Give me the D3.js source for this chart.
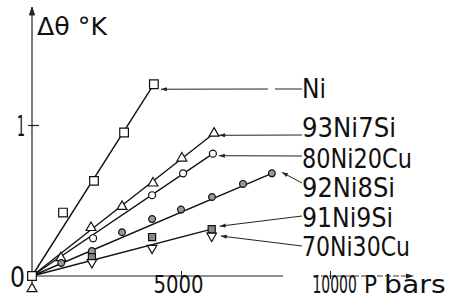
<!DOCTYPE html>
<html lang="en">
<head>
<meta charset="UTF-8">
<title>Delta theta vs P</title>
<script src="https://cdn.jsdelivr.net/npm/d3@7"></script>
<style>
  body { margin: 0; background: #fff; }
  svg { display: block; }
  text { font-family: "DejaVu Sans", sans-serif; fill: #111; }
</style>
</head>
<body>
<div id="chart"></div>
<script>
// data (P in bars, delta theta in K)
var seriesNames = ["Ni", "93Ni7Si", "80Ni20Cu", "92Ni8Si", "91Ni9Si", "70Ni30Cu"];
var niP        = [0, 1040, 2080, 3090, 4090];
var niT        = [0, 0.42, 0.63, 0.95, 1.27];
var ni7SiP     = [0, 970, 1980, 3020, 4060, 5030, 6110];
var ni7SiT     = [-0.085, 0.12, 0.32, 0.46, 0.615, 0.78, 0.945];
var cu20P      = [2050, 4030, 5070, 6070];
var cu20T      = [0.25, 0.535, 0.68, 0.81];
var ni8SiP     = [980, 2010, 3020, 4030, 5000, 6040, 7080, 8050];
var ni8SiT     = [0.086, 0.165, 0.29, 0.377, 0.44, 0.523, 0.61, 0.68];
var ni9SiP     = [2010, 4030, 6030];
var ni9SiT     = [0.125, 0.258, 0.31];
var cu30P      = [2010, 4030, 6030];
var cu30T      = [0.09, 0.185, 0.265];
var xTicks = [5000, 10000];
var yTicks = [0, 1];

var W = 455, H = 308;
var svg = d3.select("#chart").append("svg").attr("width", W).attr("height", H);

var x = d3.scaleLinear().domain([0, 10000]).range([32, 330]);
var y = d3.scaleLinear().domain([0, 1]).range([276, 125]);

function pts(ps, ts) { return ps.map(function(p, i) { return [p, ts[i]]; }); }
var data = {
  "Ni": pts(niP, niT),
  "93Ni7Si": pts(ni7SiP, ni7SiT),
  "80Ni20Cu": pts(cu20P, cu20T),
  "92Ni8Si": pts(ni8SiP, ni8SiT),
  "91Ni9Si": pts(ni9SiP, ni9SiT),
  "70Ni30Cu": pts(cu30P, cu30T)
};

// axes
var ax = svg.append("g").attr("stroke", "#222").attr("fill", "none");
ax.append("line").attr("x1", x(0)).attr("x2", x(0)).attr("y1", 10).attr("y2", 283).attr("stroke-width", 1.2);
ax.append("path").attr("d", "M" + x(0) + ",7 l-2.5,8 l5,0 z").attr("fill", "#222");
ax.append("line").attr("x1", x(0)).attr("x2", 283).attr("y1", y(0)).attr("y2", y(0)).attr("stroke-width", 1.1);
ax.append("line").attr("x1", 313).attr("x2", 410).attr("y1", y(0)).attr("y2", y(0))
  .attr("stroke-width", 0.9).attr("stroke-dasharray", "6,2");
ax.append("path").attr("d", "M414," + y(0) + " l-8,-2.5 l0,5 z").attr("fill", "#222").attr("stroke", "none");

var yAxis = svg.append("g").attr("transform", "translate(" + x(0) + ",0)")
  .call(d3.axisLeft(y).tickValues(yTicks).tickSize(4).tickPadding(4).tickFormat(d3.format("d")));
yAxis.select(".domain").remove();
yAxis.selectAll(".tick line").attr("x1", -4).attr("x2", 7).attr("stroke", "#222").attr("stroke-width", 1.2)
  .filter(function(d) { return d === 0; }).remove();
yAxis.selectAll(".tick text").attr("font-size", 29).attr("dy", "0.36em")
  .attr("textLength", function(d) { return d === 0 ? 15 : 8; }).attr("lengthAdjust", "spacingAndGlyphs")
  .attr("x", -7);

var xAxis = svg.append("g").attr("transform", "translate(0," + y(0) + ")")
  .call(d3.axisBottom(x).tickValues(xTicks).tickSize(3).tickFormat(d3.format("d")));
xAxis.select(".domain").remove();
xAxis.selectAll(".tick line").attr("y1", -5).attr("y2", 3).attr("stroke", "#222").attr("stroke-width", 1);
// squeeze tick labels with a scale transform so their boxes really shrink
xAxis.selectAll(".tick text").attr("font-size", 24).attr("dy", 0).attr("y", 0).attr("x", 0)
  .attr("text-anchor", "start")
  .attr("transform", function(d) {
    return d === 5000 ? "translate(-28,17) scale(0.82,1)" : "translate(-18,17) scale(0.58,1)";
  });

svg.append("text").attr("transform", "translate(364,293) scale(0.9,1)").attr("font-size", 24).text("P");
svg.append("text").attr("transform", "translate(384,293) scale(1.18,1)").attr("font-size", 24).text("bars");
svg.append("text").attr("x", 37).attr("y", 35).attr("font-size", 24)
  .attr("textLength", 70).attr("lengthAdjust", "spacingAndGlyphs").text("\u0394\u03b8 \u00b0K");

// fitted lines: origin to last point
var lineSeries = ["Ni", "93Ni7Si", "80Ni20Cu", "92Ni8Si", "91Ni9Si"];
var line = d3.line().x(function(d) { return x(d[0]); }).y(function(d) { return y(d[1]); });
svg.append("g").selectAll("path").data(lineSeries).enter().append("path")
  .attr("d", function(s) { var a = data[s]; return line([[0, 0], a[a.length - 1]]); })
  .attr("fill", "none").attr("stroke", "#111").attr("stroke-width", 1.4);

// markers
var sym = {
  "Ni": { type: d3.symbolSquare, size: 75, fill: "#fff", rot: 0 },
  "93Ni7Si": { type: d3.symbolTriangle, size: 42, fill: "#fff", rot: 0 },
  "80Ni20Cu": { type: d3.symbolCircle, size: 38, fill: "#fff", rot: 0 },
  "92Ni8Si": { type: d3.symbolCircle, size: 36, fill: "#999", rot: 0 },
  "91Ni9Si": { type: d3.symbolSquare, size: 50, fill: "#888", rot: 0 },
  "70Ni30Cu": { type: d3.symbolTriangle, size: 40, fill: "#fff", rot: 180 }
};
seriesNames.forEach(function(s) {
  var m = sym[s];
  svg.append("g").selectAll("path").data(data[s]).enter().append("path")
    .attr("d", d3.symbol().type(m.type).size(m.size))
    .attr("transform", function(d) { return "translate(" + x(d[0]) + "," + y(d[1]) + ") rotate(" + m.rot + ")"; })
    .attr("fill", m.fill).attr("stroke", "#111").attr("stroke-width", 1.2);
});

// labels with leader arrows
var labelY = [98, 137, 168, 197, 227, 256];
var labelW = [24, 94, 110, 93, 91, 108];
var leaders = [
  { s: "Ni", dx: 7, dy: 5, ex: 302, ey: 89, gap: [268, 275] },
  { s: "93Ni7Si", dx: 5, dy: 2, ex: 302, ey: 135 },
  { s: "80Ni20Cu", dx: 6, dy: 2, ex: 302, ey: 156 },
  { s: "92Ni8Si", dx: 10, dy: -1, ex: 302, ey: 183 },
  { s: "91Ni9Si", dx: 8, dy: -3, ex: 302, ey: 216 },
  { s: "70Ni30Cu", dx: 9, dy: 0, ex: 302, ey: 246 }
];
var lg = svg.append("g");
leaders.forEach(function(l) {
  var a = data[l.s], p = a[a.length - 1];
  var tx = x(p[0]) + l.dx, ty = y(p[1]) + l.dy;
  var ang = Math.atan2(l.ey - ty, l.ex - tx);
  if (l.gap) {
    lg.append("line").attr("x1", tx).attr("y1", ty).attr("x2", l.gap[0]).attr("y2", l.ey);
    lg.append("line").attr("x1", l.gap[1]).attr("y1", l.ey).attr("x2", l.ex).attr("y2", l.ey);
  } else {
    lg.append("line").attr("x1", tx).attr("y1", ty).attr("x2", l.ex).attr("y2", l.ey);
  }
  lg.append("path").attr("d", "M0,0 L6,-2 L6,2 Z")
    .attr("transform", "translate(" + tx + "," + ty + ") rotate(" + (ang * 180 / Math.PI) + ")")
    .attr("fill", "#222").attr("stroke", "none");
});
lg.selectAll("line").attr("stroke", "#222").attr("stroke-width", 1);

svg.append("g").selectAll("text").data(seriesNames).enter().append("text")
  .attr("x", 302).attr("y", function(d, i) { return labelY[i]; })
  .attr("font-size", 27)
  .attr("textLength", function(d, i) { return labelW[i]; }).attr("lengthAdjust", "spacingAndGlyphs")
  .text(function(d) { return d; });
</script>
</body>
</html>
